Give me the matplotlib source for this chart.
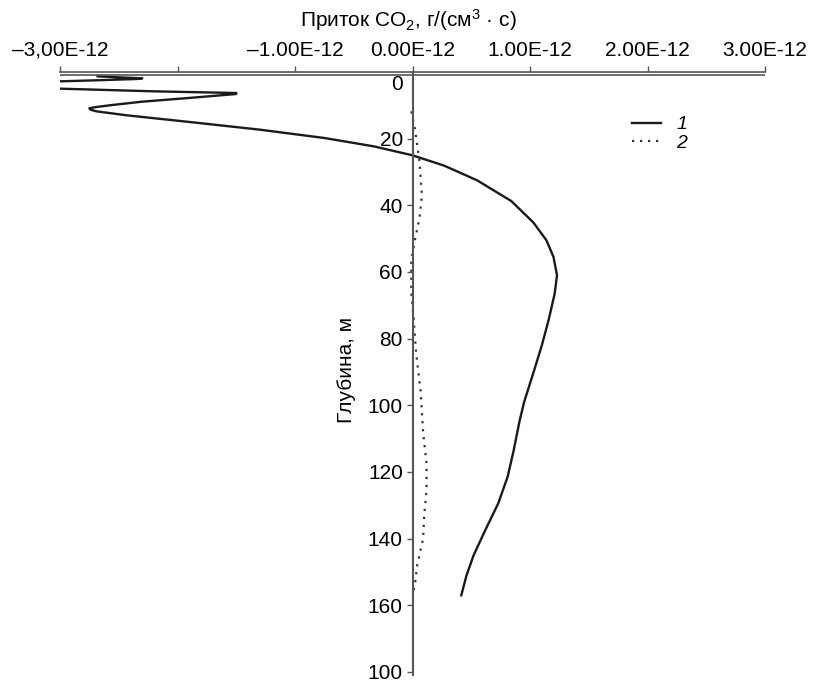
import matplotlib
matplotlib.use("Agg")
import matplotlib.pyplot as plt

# flux of CO2, units of 1e-12 g/(cm3*s), vs depth in m
depth1 = [1.3, 1.6, 1.9, 2.1, 2.5, 2.9, 3.2, 4.0, 5.0, 5.8, 6.3, 6.6, 7.7, 8.9,
          10.0, 10.6, 10.9, 11.3, 11.8, 13.0, 15.1, 17.3, 19.8, 22.3, 25.0,
          28.1, 32.5, 38.7, 45.2, 50.5, 55.5, 61.0, 66.5, 74.2, 82.1, 90.1,
          99.0, 104.9, 113.7, 121.4, 129.4, 137.4, 145.0, 151.0, 157.0]
flux1 = [-2.68, -2.50, -2.30, -2.35, -2.70, -3.10, -3.30, -3.40, -3.00, -2.20,
         -1.50, -1.50, -1.87, -2.30, -2.58, -2.71, -2.75, -2.74, -2.69, -2.43,
         -1.87, -1.30, -0.75, -0.33, 0.00, 0.27, 0.55, 0.84, 1.03, 1.14, 1.20,
         1.23, 1.21, 1.16, 1.10, 1.03, 0.95, 0.91, 0.86, 0.81, 0.73, 0.62, 0.52,
         0.46, 0.415]

depth2 = [11.8, 17.0, 22.0, 27.0, 37.0, 43.7, 50.5, 56.4, 66.5, 74.0, 84.0, 96.0,
          108.0, 117.6, 125.0, 133.0, 140.0, 148.0, 154.0, 157.0]
flux2 = [-0.01, 0.02, 0.04, 0.06, 0.08, 0.06, 0.02, -0.01, -0.01, 0.01, 0.03,
         0.07, 0.09, 0.12, 0.12, 0.10, 0.09, 0.04, 0.02, 0.00]

xticks = [-3, -2, -1, 0, 1, 2, 3]
xlabels = ["–3,00E-12", "", "–1.00E-12", "0.00E-12", "1.00E-12", "2.00E-12", "3.00E-12"]
yticks = [20, 40, 60, 80, 100, 120, 140, 160, 180]
ylabels = ["20", "40", "60", "80", "100", "120", "140", "160", "100"]

plt.rcParams["font.family"] = ["Liberation Sans", "DejaVu Sans"]
plt.rcParams["mathtext.fontset"] = "custom"
plt.rcParams["mathtext.rm"] = "Liberation Sans"
plt.rcParams["mathtext.it"] = "Liberation Sans:italic"

fig = plt.figure(figsize=(8.14, 6.86), dpi=100)
# depth 0 at y=72 px, depth 180 at y=672 px
ax = fig.add_axes([60 / 814, 1 - 675.3 / 686, 705 / 814, 603.3 / 686])

axis_col = "#555555"
l1, = ax.plot(flux1, depth1, color="#1a1a1a", lw=1.7, label="1",
              solid_joinstyle="round")
l2, = ax.plot(flux2, depth2, color="#333333", lw=1.6, ls=(0, (1, 2.6)), label="2")

ax.set_xlim(-3, 3)
ax.set_ylim(181, 0)

for s in ["right", "bottom"]:
    ax.spines[s].set_visible(False)
ax.spines["left"].set_position(("data", 0))
ax.spines["left"].set_color(axis_col)
ax.spines["left"].set_linewidth(1.5)
ax.spines["top"].set_color(axis_col)
ax.spines["top"].set_linewidth(1.2)
ax.axhline(0.9, color=axis_col, lw=1.2)

ax.xaxis.tick_top()
ax.set_xticks(xticks)
ax.set_xticklabels(xlabels, fontsize=15)
ax.tick_params(axis="x", direction="out", length=4, width=1, color=axis_col, pad=5)

ax.set_yticks(yticks)
ax.set_yticklabels(ylabels, fontsize=15)
ax.tick_params(axis="y", direction="out", length=4, width=1, color=axis_col, pad=3)
ax.annotate("0", xy=(0, 3.9), xytext=(-7, 0), textcoords="offset points",
            ha="right", va="center", fontsize=15)

fig.text(408 / 814, 1 - 20 / 686, "Приток CO$_2$, г/(см$^3$ · с)",
         ha="center", va="center", fontsize=15)
fig.text(346 / 814, 1 - 370 / 686, "Глубина, м", rotation=90,
         ha="center", va="center", fontsize=15)

ax.legend(handles=[l1, l2], loc="upper left", frameon=False,
          bbox_to_anchor=(622 / 814, 1 - 106 / 686), bbox_transform=fig.transFigure,
          borderpad=0, handlelength=1.5, handletextpad=0.8, labelspacing=0.05,
          prop={"style": "italic", "size": 14})

fig.savefig("out.png", dpi=100)
